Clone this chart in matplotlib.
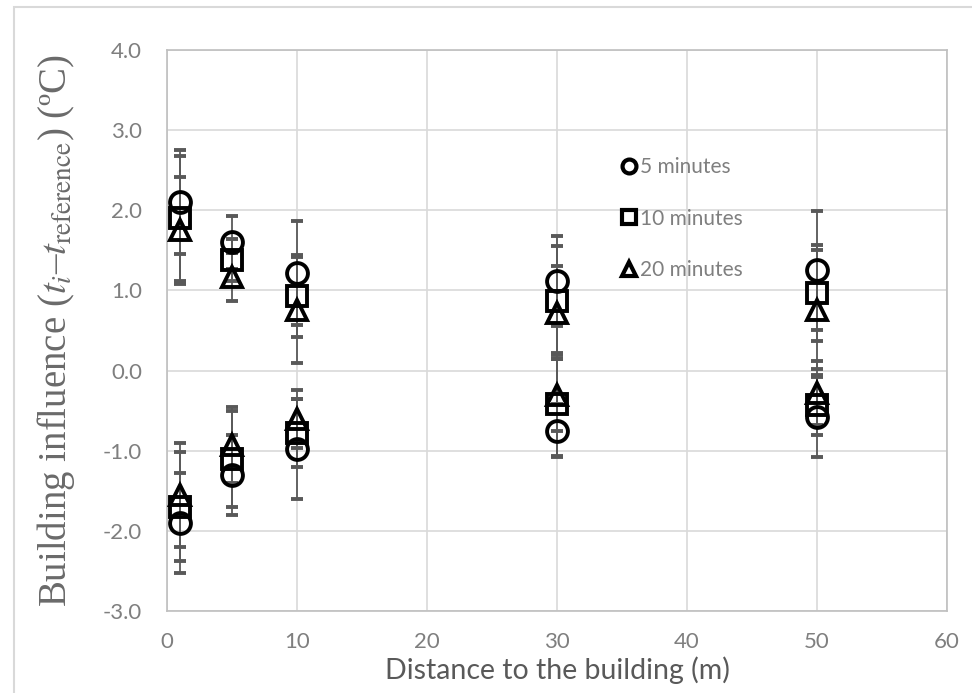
#!/usr/bin/env python3
"""Building influence vs distance to the building, with error bars."""

import matplotlib
matplotlib.use("Agg")
import matplotlib.pyplot as plt
from matplotlib.lines import Line2D
from matplotlib.patches import Rectangle

# distances (m)
distance = [1, 5, 10, 30, 50]

# positive-side series (upper cluster) and their error half-widths
upper_5min = [2.10, 1.60, 1.22, 1.12, 1.25]
upper_5min_err = [0.65, 0.33, 0.65, 0.56, 0.74]
upper_10min = [1.90, 1.38, 0.93, 0.87, 0.97]
upper_10min_err = [0.78, 0.26, 0.51, 0.68, 0.60]
upper_20min = [1.75, 1.17, 0.76, 0.72, 0.76]
upper_20min_err = [0.67, 0.30, 0.66, 0.58, 0.74]

# negative-side series (lower cluster)
lower_5min = [-1.90, -1.30, -0.98, -0.75, -0.58]
lower_5min_err = [0.62, 0.50, 0.62, 0.33, 0.50]
lower_10min = [-1.70, -1.10, -0.78, -0.42, -0.43]
lower_10min_err = [0.68, 0.60, 0.42, 0.64, 0.38]
lower_20min = [-1.55, -0.93, -0.60, -0.30, -0.28]
lower_20min_err = [0.65, 0.47, 0.36, 0.45, 0.40]

labels = ["5 minutes", "10 minutes", "20 minutes"]
markers = ["o", "s", "^"]

GRAY = "#595959"
TICK_GRAY = "#7f7f7f"

plt.rcParams["mathtext.fontset"] = "stix"

fig = plt.figure(figsize=(9.72, 6.93), dpi=100)
ax = fig.add_axes([167 / 972, 1 - 611 / 693, (947 - 167) / 972, (611 - 50) / 693])

series = [
    (upper_5min, upper_5min_err, lower_5min, lower_5min_err),
    (upper_10min, upper_10min_err, lower_10min, lower_10min_err),
    (upper_20min, upper_20min_err, lower_20min, lower_20min_err),
]
sizes = [15, 14, 15]

for (up, up_e, lo, lo_e), m, ms in zip(series, markers, sizes):
    for y, e in ((up, up_e), (lo, lo_e)):
        ax.errorbar(distance, y, yerr=e, fmt=m, ms=ms, mfc="none", mec="black",
                    mew=2.8, ecolor=GRAY, elinewidth=1.3, capsize=4,
                    capthick=0.9, zorder=3)

ax.set_xlim(0, 60)
ax.set_ylim(-3, 4)
ax.set_xticks(range(0, 61, 10))
ax.set_yticks([-3, -2, -1, 0, 1, 2, 3, 4])
ax.set_yticklabels([f"{v:.1f}" for v in ax.get_yticks()])
ax.grid(True, color="#d9d9d9", lw=1.2)
ax.set_axisbelow(True)
for s in ax.spines.values():
    s.set_color("#bfbfbf")
    s.set_linewidth(1.2)
ax.tick_params(length=0, labelsize=16, labelcolor=TICK_GRAY)
ax.tick_params(axis="y", pad=18)
ax.tick_params(axis="x", pad=15)
for lab in ax.get_xticklabels() + ax.get_yticklabels():
    lab.set_family("Lato")

ax.set_xlabel("Distance to the building (m)", fontsize=20.5, color=GRAY,
              family="Lato", labelpad=3)
ax.set_ylabel(r"Building influence ($t_i$–$t_{\mathrm{reference}}$) (ºC)",
              fontsize=28, color="#6a6a6a", family="Liberation Serif")
ax.yaxis.set_label_coords(-0.115, 0.5)

handles = [Line2D([], [], ls="none", marker=m, ms=10, mfc="none", mec="black",
                  mew=3) for m in markers]
ax.legend(handles, labels, loc="upper left", bbox_to_anchor=(612 / 972, 1 - 147 / 693),
          bbox_transform=fig.transFigure, frameon=False, handlelength=0.6,
          handletextpad=0.25, labelspacing=1.5, labelcolor=TICK_GRAY,
          borderpad=0, prop={"family": "Lato", "size": 15})

# outer chart border
fig.patches.append(Rectangle((14 / 972, -0.1), 1.2, 1 - 7 / 693 + 0.1,
                             transform=fig.transFigure, fill=False,
                             ec="#d9d9d9", lw=1.5))

fig.savefig("out.png", dpi=100)
